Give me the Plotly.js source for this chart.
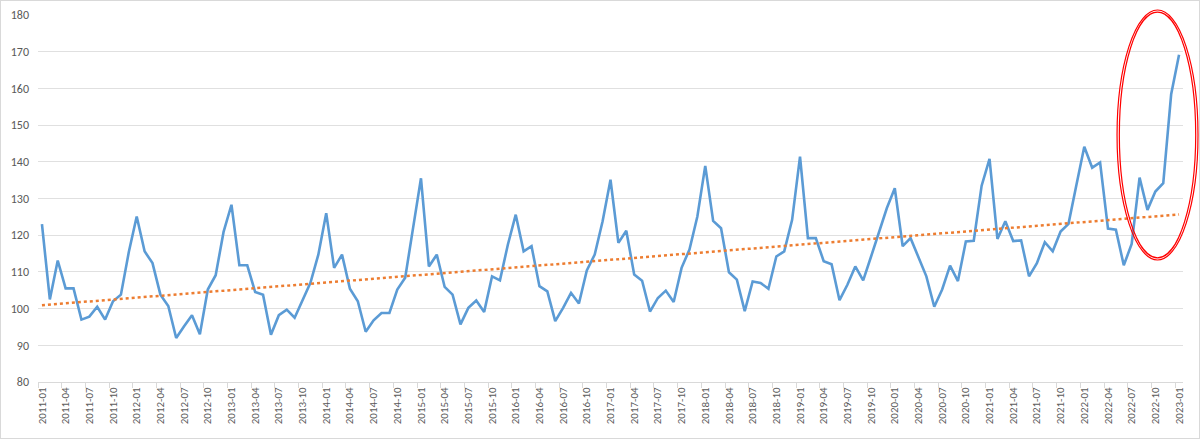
<!DOCTYPE html>
<html>
<head>
<meta charset="utf-8">
<script src="https://cdn.plot.ly/plotly-3.0.1.min.js"></script>
<style>
  html, body { margin: 0; padding: 0; background: #fff; }
  #wrap { position: relative; width: 1200px; height: 439px; }
  #chart { width: 1200px; height: 439px; }
  #frame { position: absolute; left: 0; top: 0; width: 1198px; height: 437px; border: 1px solid #d9d9d9; pointer-events: none; }
</style>
</head>
<body>
<div id="wrap">
  <div id="chart"></div>
  <div id="frame"></div>
</div>
<script>
// monthly index values, 2011-01 .. 2023-01
const values2011 = [123.0, 102.5, 113.1, 105.5, 105.5, 97.0, 97.8, 100.5, 97.0, 102.0, 103.8, 115.4];
const values2012 = [125.1, 115.6, 112.4, 103.8, 100.7, 92.0, 95.2, 98.2, 93.0, 105.2, 109.1, 120.9];
const values2013 = [128.3, 111.8, 111.8, 104.5, 103.8, 92.9, 98.2, 99.7, 97.5, 102.5, 107.0, 114.7];
const values2014 = [126.0, 111.1, 114.7, 105.4, 102.0, 93.7, 96.8, 98.8, 98.8, 105.2, 108.4, 122.0];
const values2015 = [135.5, 111.5, 114.7, 105.9, 103.8, 95.7, 100.2, 102.2, 99.1, 108.8, 107.7, 117.4];
const values2016 = [125.6, 115.6, 117.0, 106.1, 104.7, 96.6, 100.2, 104.3, 101.4, 110.4, 114.7, 123.8];
const values2017 = [135.1, 117.9, 121.2, 109.3, 107.6, 99.2, 102.9, 104.9, 101.8, 111.1, 116.1, 125.1];
const values2018 = [138.9, 123.9, 121.9, 109.9, 107.9, 99.3, 107.4, 107.0, 105.4, 114.2, 115.6, 124.2];
const values2019 = [141.4, 119.2, 119.2, 112.9, 112.1, 102.3, 106.5, 111.5, 107.7, 114.2, 120.6, 127.4];
const values2020 = [132.8, 117.0, 119.2, 114.2, 108.8, 100.5, 105.2, 111.7, 107.5, 118.3, 118.5, 133.5];
const values2021 = [140.8, 119.0, 123.8, 118.4, 118.6, 108.8, 112.4, 118.1, 115.6, 121.0, 123.1, 133.7];
const values2022 = [144.1, 138.4, 139.8, 121.8, 121.5, 111.8, 117.6, 135.7, 126.9, 131.9, 134.2, 158.4];
const values2023 = [169.2];

const firstYear = 2011;
const yearBlocks = [values2011, values2012, values2013, values2014, values2015, values2016,
                    values2017, values2018, values2019, values2020, values2021, values2022, values2023];

// build month labels & flat series
let months = [];
let values = [];
for (let i = 0; i < yearBlocks.length; i++) {
  for (let m = 0; m < yearBlocks[i].length; m++) {
    months.push((firstYear + i) + '-' + String(m + 1).padStart(2, '0'));
    values.push(yearBlocks[i][m]);
  }
}

// linear trendline (least squares, like the spreadsheet one)
let n = values.length;
let sx = 0, sy = 0, sxx = 0, sxy = 0;
for (let i = 0; i < n; i++) {
  sx += i; sy += values[i]; sxx += i * i; sxy += i * values[i];
}
let slope = (n * sxy - sx * sy) / (n * sxx - sx * sx);
let icept = (sy - slope * sx) / n;
let trend = [];
for (let i = 0; i < n; i++) {
  trend.push(icept + slope * i);
}

let series = {
  x: months,
  y: values,
  type: 'scatter',
  mode: 'lines',
  line: {color: '#5b9bd5', width: 2.6},
  hoverinfo: 'x+y'
};

let trendLine = {
  x: months,
  y: trend,
  type: 'scatter',
  mode: 'lines',
  line: {color: '#ed7d31', width: 2.5, dash: 'dot'},
  hoverinfo: 'skip'
};

let layout = {
  width: 1200,
  height: 439,
  showlegend: false,
  paper_bgcolor: '#ffffff',
  plot_bgcolor: '#ffffff',
  margin: {l: 38, r: 17, t: 15, b: 57},
  font: {family: 'Carlito, Calibri, "Liberation Sans", Arial, sans-serif', color: '#595959', size: 11},
  xaxis: {
    type: 'category',
    range: [-0.5, n - 0.5],
    tickmode: 'linear',
    tick0: 0,
    dtick: 3,
    tickangle: -90,
    tickson: 'boundaries',
    ticks: 'outside',
    ticklen: 5,
    tickcolor: '#d9d9d9',
    showline: true,
    linecolor: '#d9d9d9',
    linewidth: 1,
    showgrid: false,
    zeroline: false,
    tickfont: {size: 11, color: '#595959'}
  },
  yaxis: {
    range: [80, 180],
    dtick: 10,
    tick0: 80,
    showgrid: true,
    gridcolor: '#e0e0e0',
    gridwidth: 1,
    zeroline: false,
    showline: false,
    ticks: '',
    ticklabelstandoff: 8,
    tickfont: {size: 12, color: '#595959'}
  },
  shapes: [
    // red double-line ellipse round the last months (paper ref so it is not clipped)
    {type: 'circle', xref: 'paper', yref: 'paper', x0: 0.9424, x1: 1.0131, y0: 0.3324, y1: 1.0136,
     line: {color: '#ff0000', width: 1.2}},
    {type: 'circle', xref: 'paper', yref: 'paper', x0: 0.9444, x1: 1.0111, y0: 0.3384, y1: 1.0080,
     line: {color: '#ff0000', width: 1.2}}
  ]
};

Plotly.newPlot('chart', [series, trendLine], layout, {displayModeBar: false, staticPlot: true});
</script>
</body>
</html>
